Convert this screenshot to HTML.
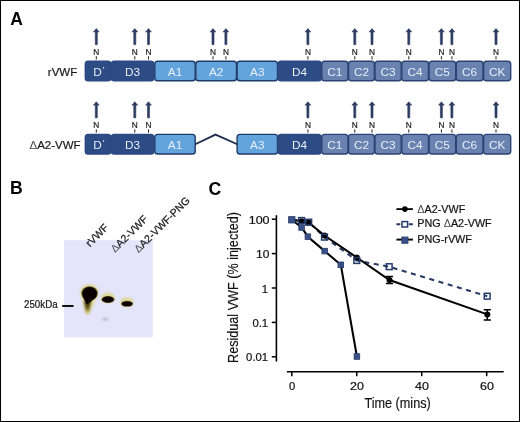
<!DOCTYPE html>
<html><head><meta charset="utf-8"><style>
html,body{margin:0;padding:0;background:#fff;}
body{width:520px;height:422px;overflow:hidden;font-family:"Liberation Sans",sans-serif;}
svg{display:block;will-change:transform;}
.dk{stroke:#1a1a1a;stroke-width:0.22px;}
</style></head><body>
<svg width="520" height="422" viewBox="0 0 520 422" font-family="Liberation Sans, sans-serif"><rect x="0.5" y="0.5" width="519" height="421" fill="#fff" stroke="#000" stroke-width="1"/>
<text x="10.3" y="24.7" font-size="17.5" font-weight="bold" fill="#000">A</text>
<text x="77.2" y="75.9" font-size="11.7" fill="#1a1a1a" text-anchor="end" textLength="29.4" lengthAdjust="spacingAndGlyphs" class="dk">rVWF</text>
<text x="80.6" y="149.3" font-size="11.5" fill="#1a1a1a" text-anchor="end" class="dk"><tspan fill="#4a4a4a" stroke="none">Δ</tspan>A2-VWF</text>
<path d="M96.30,28.6 L99.20,32.0 L97.35,31.7 L97.30,44.5 Q96.30,45.1 95.30,44.5 L95.25,31.7 L93.40,32.0 Z" fill="#2b3b60" stroke="#2b3b60" stroke-width="0.6" stroke-linejoin="round"/>
<text x="96.30" y="54.7" font-size="9.95" fill="#1a1a1a" class="dk" text-anchor="middle" textLength="6" lengthAdjust="spacingAndGlyphs">N</text>
<rect x="95.80" y="56.2" width="1" height="3.2" fill="#222"/>
<path d="M134.80,28.6 L137.70,32.0 L135.85,31.7 L135.80,44.5 Q134.80,45.1 133.80,44.5 L133.75,31.7 L131.90,32.0 Z" fill="#2b3b60" stroke="#2b3b60" stroke-width="0.6" stroke-linejoin="round"/>
<text x="134.80" y="54.7" font-size="9.95" fill="#1a1a1a" class="dk" text-anchor="middle" textLength="6" lengthAdjust="spacingAndGlyphs">N</text>
<rect x="134.30" y="56.2" width="1" height="3.2" fill="#222"/>
<path d="M148.50,28.6 L151.40,32.0 L149.55,31.7 L149.50,44.5 Q148.50,45.1 147.50,44.5 L147.45,31.7 L145.60,32.0 Z" fill="#2b3b60" stroke="#2b3b60" stroke-width="0.6" stroke-linejoin="round"/>
<text x="148.50" y="54.7" font-size="9.95" fill="#1a1a1a" class="dk" text-anchor="middle" textLength="6" lengthAdjust="spacingAndGlyphs">N</text>
<rect x="148.00" y="56.2" width="1" height="3.2" fill="#222"/>
<path d="M213.00,28.6 L215.90,32.0 L214.05,31.7 L214.00,44.5 Q213.00,45.1 212.00,44.5 L211.95,31.7 L210.10,32.0 Z" fill="#2b3b60" stroke="#2b3b60" stroke-width="0.6" stroke-linejoin="round"/>
<text x="213.00" y="54.7" font-size="9.95" fill="#1a1a1a" class="dk" text-anchor="middle" textLength="6" lengthAdjust="spacingAndGlyphs">N</text>
<rect x="212.50" y="56.2" width="1" height="3.2" fill="#222"/>
<path d="M225.90,28.6 L228.80,32.0 L226.95,31.7 L226.90,44.5 Q225.90,45.1 224.90,44.5 L224.85,31.7 L223.00,32.0 Z" fill="#2b3b60" stroke="#2b3b60" stroke-width="0.6" stroke-linejoin="round"/>
<text x="225.90" y="54.7" font-size="9.95" fill="#1a1a1a" class="dk" text-anchor="middle" textLength="6" lengthAdjust="spacingAndGlyphs">N</text>
<rect x="225.40" y="56.2" width="1" height="3.2" fill="#222"/>
<path d="M307.90,28.6 L310.80,32.0 L308.95,31.7 L308.90,44.5 Q307.90,45.1 306.90,44.5 L306.85,31.7 L305.00,32.0 Z" fill="#2b3b60" stroke="#2b3b60" stroke-width="0.6" stroke-linejoin="round"/>
<text x="307.90" y="54.7" font-size="9.95" fill="#1a1a1a" class="dk" text-anchor="middle" textLength="6" lengthAdjust="spacingAndGlyphs">N</text>
<rect x="307.40" y="56.2" width="1" height="3.2" fill="#222"/>
<path d="M354.80,28.6 L357.70,32.0 L355.85,31.7 L355.80,44.5 Q354.80,45.1 353.80,44.5 L353.75,31.7 L351.90,32.0 Z" fill="#2b3b60" stroke="#2b3b60" stroke-width="0.6" stroke-linejoin="round"/>
<text x="354.80" y="54.7" font-size="9.95" fill="#1a1a1a" class="dk" text-anchor="middle" textLength="6" lengthAdjust="spacingAndGlyphs">N</text>
<rect x="354.30" y="56.2" width="1" height="3.2" fill="#222"/>
<path d="M372.00,28.6 L374.90,32.0 L373.05,31.7 L373.00,44.5 Q372.00,45.1 371.00,44.5 L370.95,31.7 L369.10,32.0 Z" fill="#2b3b60" stroke="#2b3b60" stroke-width="0.6" stroke-linejoin="round"/>
<text x="372.00" y="54.7" font-size="9.95" fill="#1a1a1a" class="dk" text-anchor="middle" textLength="6" lengthAdjust="spacingAndGlyphs">N</text>
<rect x="371.50" y="56.2" width="1" height="3.2" fill="#222"/>
<path d="M408.80,28.6 L411.70,32.0 L409.85,31.7 L409.80,44.5 Q408.80,45.1 407.80,44.5 L407.75,31.7 L405.90,32.0 Z" fill="#2b3b60" stroke="#2b3b60" stroke-width="0.6" stroke-linejoin="round"/>
<text x="408.80" y="54.7" font-size="9.95" fill="#1a1a1a" class="dk" text-anchor="middle" textLength="6" lengthAdjust="spacingAndGlyphs">N</text>
<rect x="408.30" y="56.2" width="1" height="3.2" fill="#222"/>
<path d="M441.40,28.6 L444.30,32.0 L442.45,31.7 L442.40,44.5 Q441.40,45.1 440.40,44.5 L440.35,31.7 L438.50,32.0 Z" fill="#2b3b60" stroke="#2b3b60" stroke-width="0.6" stroke-linejoin="round"/>
<text x="441.40" y="54.7" font-size="9.95" fill="#1a1a1a" class="dk" text-anchor="middle" textLength="6" lengthAdjust="spacingAndGlyphs">N</text>
<rect x="440.90" y="56.2" width="1" height="3.2" fill="#222"/>
<path d="M451.90,28.6 L454.80,32.0 L452.95,31.7 L452.90,44.5 Q451.90,45.1 450.90,44.5 L450.85,31.7 L449.00,32.0 Z" fill="#2b3b60" stroke="#2b3b60" stroke-width="0.6" stroke-linejoin="round"/>
<text x="451.90" y="54.7" font-size="9.95" fill="#1a1a1a" class="dk" text-anchor="middle" textLength="6" lengthAdjust="spacingAndGlyphs">N</text>
<rect x="451.40" y="56.2" width="1" height="3.2" fill="#222"/>
<path d="M496.00,28.6 L498.90,32.0 L497.05,31.7 L497.00,44.5 Q496.00,45.1 495.00,44.5 L494.95,31.7 L493.10,32.0 Z" fill="#2b3b60" stroke="#2b3b60" stroke-width="0.6" stroke-linejoin="round"/>
<text x="496.00" y="54.7" font-size="9.95" fill="#1a1a1a" class="dk" text-anchor="middle" textLength="6" lengthAdjust="spacingAndGlyphs">N</text>
<rect x="495.50" y="56.2" width="1" height="3.2" fill="#222"/>
<rect x="85.30" y="61.20" width="25.40" height="19.60" rx="2.8" fill="#2d4b84" stroke="#2c4981" stroke-width="1.4"/>
<text x="97.50" y="75.9" font-size="11.8" fill="#e8eef9" text-anchor="middle">D</text>
<path d="M103.90,66.8 L103.20,68.8" stroke="#e8eef9" stroke-width="0.9"/>
<rect x="111.30" y="61.20" width="42.40" height="19.60" rx="2.8" fill="#2d4b84" stroke="#2c4981" stroke-width="1.4"/>
<text x="132.50" y="75.9" font-size="11.8" fill="#e8eef9" text-anchor="middle">D3</text>
<rect x="154.80" y="61.20" width="40.40" height="19.60" rx="2.8" fill="#63a4dc" stroke="#1f3b68" stroke-width="1.4"/>
<text x="175.00" y="75.9" font-size="11.8" fill="#e8eef9" text-anchor="middle">A1</text>
<rect x="195.80" y="61.20" width="40.70" height="19.60" rx="2.8" fill="#63a4dc" stroke="#1f3b68" stroke-width="1.4"/>
<text x="216.15" y="75.9" font-size="11.8" fill="#e8eef9" text-anchor="middle">A2</text>
<rect x="237.10" y="61.20" width="40.40" height="19.60" rx="2.8" fill="#63a4dc" stroke="#1f3b68" stroke-width="1.4"/>
<text x="257.30" y="75.9" font-size="11.8" fill="#e8eef9" text-anchor="middle">A3</text>
<rect x="278.10" y="61.20" width="43.10" height="19.60" rx="2.8" fill="#2d4b84" stroke="#2c4981" stroke-width="1.4"/>
<text x="299.65" y="75.9" font-size="11.8" fill="#e8eef9" text-anchor="middle">D4</text>
<rect x="321.80" y="61.20" width="26.20" height="19.60" rx="2.8" fill="#6982af" stroke="#2c4373" stroke-width="1.4"/>
<text x="334.90" y="75.9" font-size="11.8" fill="#e8eef9" text-anchor="middle">C1</text>
<rect x="348.60" y="61.20" width="25.80" height="19.60" rx="2.8" fill="#6982af" stroke="#2c4373" stroke-width="1.4"/>
<text x="361.50" y="75.9" font-size="11.8" fill="#e8eef9" text-anchor="middle">C2</text>
<rect x="375.00" y="61.20" width="26.20" height="19.60" rx="2.8" fill="#6982af" stroke="#2c4373" stroke-width="1.4"/>
<text x="388.10" y="75.9" font-size="11.8" fill="#e8eef9" text-anchor="middle">C3</text>
<rect x="401.80" y="61.20" width="26.70" height="19.60" rx="2.8" fill="#6982af" stroke="#2c4373" stroke-width="1.4"/>
<text x="415.15" y="75.9" font-size="11.8" fill="#e8eef9" text-anchor="middle">C4</text>
<rect x="429.10" y="61.20" width="26.60" height="19.60" rx="2.8" fill="#6982af" stroke="#2c4373" stroke-width="1.4"/>
<text x="442.40" y="75.9" font-size="11.8" fill="#e8eef9" text-anchor="middle">C5</text>
<rect x="456.30" y="61.20" width="26.70" height="19.60" rx="2.8" fill="#6982af" stroke="#2c4373" stroke-width="1.4"/>
<text x="469.65" y="75.9" font-size="11.8" fill="#e8eef9" text-anchor="middle">C6</text>
<rect x="483.60" y="61.20" width="27.10" height="19.60" rx="2.8" fill="#6982af" stroke="#2c4373" stroke-width="1.4"/>
<text x="497.15" y="75.9" font-size="11.8" fill="#e8eef9" text-anchor="middle">CK</text>
<path d="M96.30,101.80000000000001 L99.20,105.2 L97.35,104.9 L97.30,117.7 Q96.30,118.30000000000001 95.30,117.7 L95.25,104.9 L93.40,105.2 Z" fill="#2b3b60" stroke="#2b3b60" stroke-width="0.6" stroke-linejoin="round"/>
<text x="96.30" y="127.9" font-size="9.95" fill="#1a1a1a" class="dk" text-anchor="middle" textLength="6" lengthAdjust="spacingAndGlyphs">N</text>
<rect x="95.80" y="129.4" width="1" height="3.2" fill="#222"/>
<path d="M134.80,101.80000000000001 L137.70,105.2 L135.85,104.9 L135.80,117.7 Q134.80,118.30000000000001 133.80,117.7 L133.75,104.9 L131.90,105.2 Z" fill="#2b3b60" stroke="#2b3b60" stroke-width="0.6" stroke-linejoin="round"/>
<text x="134.80" y="127.9" font-size="9.95" fill="#1a1a1a" class="dk" text-anchor="middle" textLength="6" lengthAdjust="spacingAndGlyphs">N</text>
<rect x="134.30" y="129.4" width="1" height="3.2" fill="#222"/>
<path d="M148.50,101.80000000000001 L151.40,105.2 L149.55,104.9 L149.50,117.7 Q148.50,118.30000000000001 147.50,117.7 L147.45,104.9 L145.60,105.2 Z" fill="#2b3b60" stroke="#2b3b60" stroke-width="0.6" stroke-linejoin="round"/>
<text x="148.50" y="127.9" font-size="9.95" fill="#1a1a1a" class="dk" text-anchor="middle" textLength="6" lengthAdjust="spacingAndGlyphs">N</text>
<rect x="148.00" y="129.4" width="1" height="3.2" fill="#222"/>
<path d="M307.90,101.80000000000001 L310.80,105.2 L308.95,104.9 L308.90,117.7 Q307.90,118.30000000000001 306.90,117.7 L306.85,104.9 L305.00,105.2 Z" fill="#2b3b60" stroke="#2b3b60" stroke-width="0.6" stroke-linejoin="round"/>
<text x="307.90" y="127.9" font-size="9.95" fill="#1a1a1a" class="dk" text-anchor="middle" textLength="6" lengthAdjust="spacingAndGlyphs">N</text>
<rect x="307.40" y="129.4" width="1" height="3.2" fill="#222"/>
<path d="M354.80,101.80000000000001 L357.70,105.2 L355.85,104.9 L355.80,117.7 Q354.80,118.30000000000001 353.80,117.7 L353.75,104.9 L351.90,105.2 Z" fill="#2b3b60" stroke="#2b3b60" stroke-width="0.6" stroke-linejoin="round"/>
<text x="354.80" y="127.9" font-size="9.95" fill="#1a1a1a" class="dk" text-anchor="middle" textLength="6" lengthAdjust="spacingAndGlyphs">N</text>
<rect x="354.30" y="129.4" width="1" height="3.2" fill="#222"/>
<path d="M372.00,101.80000000000001 L374.90,105.2 L373.05,104.9 L373.00,117.7 Q372.00,118.30000000000001 371.00,117.7 L370.95,104.9 L369.10,105.2 Z" fill="#2b3b60" stroke="#2b3b60" stroke-width="0.6" stroke-linejoin="round"/>
<text x="372.00" y="127.9" font-size="9.95" fill="#1a1a1a" class="dk" text-anchor="middle" textLength="6" lengthAdjust="spacingAndGlyphs">N</text>
<rect x="371.50" y="129.4" width="1" height="3.2" fill="#222"/>
<path d="M408.80,101.80000000000001 L411.70,105.2 L409.85,104.9 L409.80,117.7 Q408.80,118.30000000000001 407.80,117.7 L407.75,104.9 L405.90,105.2 Z" fill="#2b3b60" stroke="#2b3b60" stroke-width="0.6" stroke-linejoin="round"/>
<text x="408.80" y="127.9" font-size="9.95" fill="#1a1a1a" class="dk" text-anchor="middle" textLength="6" lengthAdjust="spacingAndGlyphs">N</text>
<rect x="408.30" y="129.4" width="1" height="3.2" fill="#222"/>
<path d="M441.40,101.80000000000001 L444.30,105.2 L442.45,104.9 L442.40,117.7 Q441.40,118.30000000000001 440.40,117.7 L440.35,104.9 L438.50,105.2 Z" fill="#2b3b60" stroke="#2b3b60" stroke-width="0.6" stroke-linejoin="round"/>
<text x="441.40" y="127.9" font-size="9.95" fill="#1a1a1a" class="dk" text-anchor="middle" textLength="6" lengthAdjust="spacingAndGlyphs">N</text>
<rect x="440.90" y="129.4" width="1" height="3.2" fill="#222"/>
<path d="M451.90,101.80000000000001 L454.80,105.2 L452.95,104.9 L452.90,117.7 Q451.90,118.30000000000001 450.90,117.7 L450.85,104.9 L449.00,105.2 Z" fill="#2b3b60" stroke="#2b3b60" stroke-width="0.6" stroke-linejoin="round"/>
<text x="451.90" y="127.9" font-size="9.95" fill="#1a1a1a" class="dk" text-anchor="middle" textLength="6" lengthAdjust="spacingAndGlyphs">N</text>
<rect x="451.40" y="129.4" width="1" height="3.2" fill="#222"/>
<path d="M496.00,101.80000000000001 L498.90,105.2 L497.05,104.9 L497.00,117.7 Q496.00,118.30000000000001 495.00,117.7 L494.95,104.9 L493.10,105.2 Z" fill="#2b3b60" stroke="#2b3b60" stroke-width="0.6" stroke-linejoin="round"/>
<text x="496.00" y="127.9" font-size="9.95" fill="#1a1a1a" class="dk" text-anchor="middle" textLength="6" lengthAdjust="spacingAndGlyphs">N</text>
<rect x="495.50" y="129.4" width="1" height="3.2" fill="#222"/>
<rect x="85.30" y="134.40" width="25.40" height="19.60" rx="2.8" fill="#2d4b84" stroke="#2c4981" stroke-width="1.4"/>
<text x="97.50" y="149.10000000000002" font-size="11.8" fill="#e8eef9" text-anchor="middle">D</text>
<path d="M103.90,140.0 L103.20,142.0" stroke="#e8eef9" stroke-width="0.9"/>
<rect x="111.30" y="134.40" width="42.40" height="19.60" rx="2.8" fill="#2d4b84" stroke="#2c4981" stroke-width="1.4"/>
<text x="132.50" y="149.10000000000002" font-size="11.8" fill="#e8eef9" text-anchor="middle">D3</text>
<rect x="154.80" y="134.40" width="40.40" height="19.60" rx="2.8" fill="#63a4dc" stroke="#1f3b68" stroke-width="1.4"/>
<text x="175.00" y="149.10000000000002" font-size="11.8" fill="#e8eef9" text-anchor="middle">A1</text>
<rect x="237.10" y="134.40" width="40.40" height="19.60" rx="2.8" fill="#63a4dc" stroke="#1f3b68" stroke-width="1.4"/>
<text x="257.30" y="149.10000000000002" font-size="11.8" fill="#e8eef9" text-anchor="middle">A3</text>
<rect x="278.10" y="134.40" width="43.10" height="19.60" rx="2.8" fill="#2d4b84" stroke="#2c4981" stroke-width="1.4"/>
<text x="299.65" y="149.10000000000002" font-size="11.8" fill="#e8eef9" text-anchor="middle">D4</text>
<rect x="321.80" y="134.40" width="26.20" height="19.60" rx="2.8" fill="#6982af" stroke="#2c4373" stroke-width="1.4"/>
<text x="334.90" y="149.10000000000002" font-size="11.8" fill="#e8eef9" text-anchor="middle">C1</text>
<rect x="348.60" y="134.40" width="25.80" height="19.60" rx="2.8" fill="#6982af" stroke="#2c4373" stroke-width="1.4"/>
<text x="361.50" y="149.10000000000002" font-size="11.8" fill="#e8eef9" text-anchor="middle">C2</text>
<rect x="375.00" y="134.40" width="26.20" height="19.60" rx="2.8" fill="#6982af" stroke="#2c4373" stroke-width="1.4"/>
<text x="388.10" y="149.10000000000002" font-size="11.8" fill="#e8eef9" text-anchor="middle">C3</text>
<rect x="401.80" y="134.40" width="26.70" height="19.60" rx="2.8" fill="#6982af" stroke="#2c4373" stroke-width="1.4"/>
<text x="415.15" y="149.10000000000002" font-size="11.8" fill="#e8eef9" text-anchor="middle">C4</text>
<rect x="429.10" y="134.40" width="26.60" height="19.60" rx="2.8" fill="#6982af" stroke="#2c4373" stroke-width="1.4"/>
<text x="442.40" y="149.10000000000002" font-size="11.8" fill="#e8eef9" text-anchor="middle">C5</text>
<rect x="456.30" y="134.40" width="26.70" height="19.60" rx="2.8" fill="#6982af" stroke="#2c4373" stroke-width="1.4"/>
<text x="469.65" y="149.10000000000002" font-size="11.8" fill="#e8eef9" text-anchor="middle">C6</text>
<rect x="483.60" y="134.40" width="27.10" height="19.60" rx="2.8" fill="#6982af" stroke="#2c4373" stroke-width="1.4"/>
<text x="497.15" y="149.10000000000002" font-size="11.8" fill="#e8eef9" text-anchor="middle">CK</text>
<path d="M195.3,144.2 L215.5,134.6 L237.2,144.2" fill="none" stroke="#1f2d4d" stroke-width="1.8"/>
<text x="10.1" y="193.7" font-size="17.6" font-weight="bold" fill="#000">B</text>
<rect x="64.1" y="240.2" width="88.6" height="97" fill="#e4e4fa"/>
<text x="57.6" y="307.8" font-size="10" fill="#1a1a1a" class="dk" text-anchor="end" textLength="33.6" lengthAdjust="spacingAndGlyphs">250kDa</text>
<rect x="62.2" y="305" width="11.4" height="2" fill="#111"/>
<defs><filter id="bl1" x="-50%" y="-50%" width="200%" height="200%"><feGaussianBlur stdDeviation="1.3"/></filter><filter id="bl2" x="-50%" y="-50%" width="200%" height="200%"><feGaussianBlur stdDeviation="0.6"/></filter><filter id="bl3" x="-50%" y="-50%" width="200%" height="200%"><feGaussianBlur stdDeviation="1.0"/></filter><linearGradient id="tail" x1="0" y1="0" x2="0" y2="1"><stop offset="0" stop-color="#2a2206"/><stop offset="0.55" stop-color="#6e5c1c"/><stop offset="1" stop-color="#d8cc80" stop-opacity="0.3"/></linearGradient></defs>
<g filter="url(#bl1)" fill="#ddd890" opacity="0.95"><ellipse cx="89.3" cy="292.6" rx="9.2" ry="8.3"/><path d="M81.5,296 L97,296 L89.5,314 L85.5,314 Z"/><ellipse cx="108" cy="297.6" rx="7" ry="5.2"/><ellipse cx="126.9" cy="302" rx="6.6" ry="4.6"/></g>
<g filter="url(#bl2)" fill="#6a5818"><ellipse cx="89.6" cy="293.4" rx="8.2" ry="7.2"/><path d="M82,296 L97.2,296 L87.3,306 Z"/><ellipse cx="108" cy="299.5" rx="6.5" ry="3.6"/><ellipse cx="127.1" cy="303.8" rx="6.0" ry="3.0"/></g>
<path d="M84.2,301 L90.8,301 L89,314.5 L86,314.5 Z" fill="url(#tail)" filter="url(#bl3)"/>
<g filter="url(#bl2)" fill="#080604"><ellipse cx="89.6" cy="293.6" rx="7.4" ry="6.5"/><path d="M82.8,296 L96.5,296 L87,304.5 Z"/><ellipse cx="108" cy="299.5" rx="5.7" ry="3"/><ellipse cx="127.1" cy="303.8" rx="5.2" ry="2.3"/></g>
<ellipse cx="105.3" cy="319.2" rx="3.2" ry="1.3" fill="#9a9aa8" opacity="0.6" filter="url(#bl3)"/>
<text x="90.0" y="247.4" font-size="10.6" fill="#1a1a1a" class="dk" transform="rotate(-45 90.0 247.4)">rVWF</text>
<text x="115.0" y="253.1" font-size="10.6" fill="#1a1a1a" class="dk" transform="rotate(-45 115.0 253.1)"><tspan fill="#4a4a4a" stroke="none">Δ</tspan>A2-VWF</text>
<text x="138.5" y="253.2" font-size="10.6" fill="#1a1a1a" class="dk" transform="rotate(-45 138.5 253.2)"><tspan fill="#4a4a4a" stroke="none">Δ</tspan>A2-VWF-PNG</text>
<text x="208.4" y="194.7" font-size="17.7" font-weight="bold" fill="#000">C</text>
<path d="M276.4,215.2 L276.4,361.5" stroke="#000" stroke-width="1.6"/>
<path d="M271.8,219.20 L276.4,219.20" stroke="#000" stroke-width="1.5"/>
<text x="269.6" y="223.70" font-size="11.3" fill="#111" class="dk" text-anchor="end" textLength="20.9" lengthAdjust="spacingAndGlyphs">100</text>
<path d="M271.8,253.60 L276.4,253.60" stroke="#000" stroke-width="1.5"/>
<text x="269.4" y="258.10" font-size="11.3" fill="#111" class="dk" text-anchor="end" textLength="13.4" lengthAdjust="spacingAndGlyphs">10</text>
<path d="M271.8,288.00 L276.4,288.00" stroke="#000" stroke-width="1.5"/>
<text x="268.0" y="292.50" font-size="11.3" fill="#111" class="dk" text-anchor="end">1</text>
<path d="M271.8,322.40 L276.4,322.40" stroke="#000" stroke-width="1.5"/>
<text x="268.1" y="326.90" font-size="11.3" fill="#111" class="dk" text-anchor="end">0.1</text>
<path d="M271.8,356.80 L276.4,356.80" stroke="#000" stroke-width="1.5"/>
<text x="268.1" y="361.30" font-size="11.3" fill="#111" class="dk" text-anchor="end">0.01</text>
<path d="M286.9,371.8 L503.7,371.8" stroke="#000" stroke-width="1.6"/>
<path d="M291.80,371.8 L291.80,376.2" stroke="#000" stroke-width="1.5"/>
<text x="292.10" y="389.8" font-size="11.3" fill="#111" class="dk" text-anchor="middle">0</text>
<path d="M356.76,371.8 L356.76,376.2" stroke="#000" stroke-width="1.5"/>
<text x="357.06" y="389.8" font-size="11.3" fill="#111" class="dk" text-anchor="middle" textLength="13.9" lengthAdjust="spacingAndGlyphs">20</text>
<path d="M421.72,371.8 L421.72,376.2" stroke="#000" stroke-width="1.5"/>
<text x="422.02" y="389.8" font-size="11.3" fill="#111" class="dk" text-anchor="middle" textLength="13.9" lengthAdjust="spacingAndGlyphs">40</text>
<path d="M486.68,371.8 L486.68,376.2" stroke="#000" stroke-width="1.5"/>
<text x="486.98" y="389.8" font-size="11.3" fill="#111" class="dk" text-anchor="middle" textLength="13.9" lengthAdjust="spacingAndGlyphs">60</text>
<text x="397.6" y="408.2" font-size="14.2" fill="#111" text-anchor="middle" textLength="66.4" lengthAdjust="spacingAndGlyphs" stroke="#111" stroke-width="0.15">Time (mins)</text>
<text x="0" y="0" font-size="14.2" fill="#111" text-anchor="middle" textLength="151" lengthAdjust="spacingAndGlyphs" stroke="#111" stroke-width="0.15" transform="translate(238.2 287.5) rotate(-90)">Residual VWF (% injected)</text>
<polyline points="291.80,219.80 301.50,220.50 308.70,222.20 324.50,237.10 356.80,260.50 389.20,266.70 487.20,296.20" fill="none" stroke="#263a62" stroke-width="2.05" stroke-dasharray="5 4.6" stroke-dashoffset="0"/>
<polyline points="291.80,219.80 301.50,221.20 308.50,222.50 324.50,235.50 356.80,257.50 389.50,280.00 487.30,314.40" fill="none" stroke="#000" stroke-width="2.05"/>
<polyline points="291.80,219.80 301.60,227.50 307.90,236.70 324.70,251.10 340.80,264.80 356.90,356.50" fill="none" stroke="#000" stroke-width="2.05"/>
<path d="M389.5,276.4 L389.5,283.6 M385.9,276.4 L393.1,276.4 M385.9,283.6 L393.1,283.6" stroke="#000" stroke-width="1.5"/>
<path d="M487.3,309.8 L487.3,320.1 M483.7,309.8 L490.90000000000003,309.8 M483.7,320.1 L490.90000000000003,320.1" stroke="#000" stroke-width="1.5"/>
<circle cx="301.5" cy="221.2" r="3" fill="#000"/>
<circle cx="308.5" cy="222.5" r="3" fill="#000"/>
<circle cx="324.5" cy="235.5" r="3" fill="#000"/>
<circle cx="356.8" cy="257.5" r="3" fill="#000"/>
<circle cx="389.5" cy="280" r="3" fill="#000"/>
<circle cx="487.3" cy="314.4" r="3" fill="#000"/>
<rect x="298.60" y="217.60" width="5.8" height="5.8" fill="none" stroke="#23396a" stroke-width="1.5"/>
<rect x="305.80" y="219.30" width="5.8" height="5.8" fill="none" stroke="#23396a" stroke-width="1.5"/>
<rect x="321.60" y="234.20" width="5.8" height="5.8" fill="none" stroke="#23396a" stroke-width="1.5"/>
<rect x="353.90" y="257.60" width="5.8" height="5.8" fill="none" stroke="#23396a" stroke-width="1.5"/>
<rect x="386.30" y="263.80" width="5.8" height="5.8" fill="none" stroke="#23396a" stroke-width="1.5"/>
<rect x="484.30" y="293.30" width="5.8" height="5.8" fill="none" stroke="#23396a" stroke-width="1.5"/>
<rect x="288.60" y="216.60" width="6.4" height="6.4" fill="#3a5088" stroke="#2a3d6c" stroke-width="0.8"/>
<rect x="298.80" y="224.70" width="5.6" height="5.6" fill="#3a5088" stroke="#2a3d6c" stroke-width="0.8"/>
<rect x="305.10" y="233.90" width="5.6" height="5.6" fill="#3a5088" stroke="#2a3d6c" stroke-width="0.8"/>
<rect x="321.90" y="248.30" width="5.6" height="5.6" fill="#3a5088" stroke="#2a3d6c" stroke-width="0.8"/>
<rect x="338.00" y="262.00" width="5.6" height="5.6" fill="#3a5088" stroke="#2a3d6c" stroke-width="0.8"/>
<rect x="354.10" y="353.70" width="5.6" height="5.6" fill="#3a5088" stroke="#2a3d6c" stroke-width="0.8"/>
<path d="M396.4,209.1 L412.9,209.1" stroke="#000" stroke-width="1.8"/><circle cx="404.9" cy="209.1" r="2.8" fill="#000"/>
<path d="M396.4,224.3 L400.3,224.3 M408.8,224.3 L412.9,224.3" stroke="#263a62" stroke-width="2"/><rect x="402" y="221.6" width="5.6" height="5.4" fill="#fff" stroke="#23396a" stroke-width="1.5"/>
<path d="M396.4,239.6 L412.9,239.6" stroke="#000" stroke-width="1.9"/><rect x="401.8" y="237" width="6.2" height="6.3" fill="#3a5088" stroke="#2a3d6c" stroke-width="0.8"/>
<text x="417.3" y="212.7" font-size="10.8" fill="#111" class="dk"><tspan fill="#4a4a4a" stroke="none">Δ</tspan>A2-VWF</text>
<text x="417.3" y="227.4" font-size="10.8" fill="#111" class="dk">PNG <tspan fill="#4a4a4a" stroke="none">Δ</tspan>A2-VWF</text>
<text x="417.3" y="243.2" font-size="10.8" fill="#111" class="dk">PNG-rVWF</text></svg>
</body></html>
